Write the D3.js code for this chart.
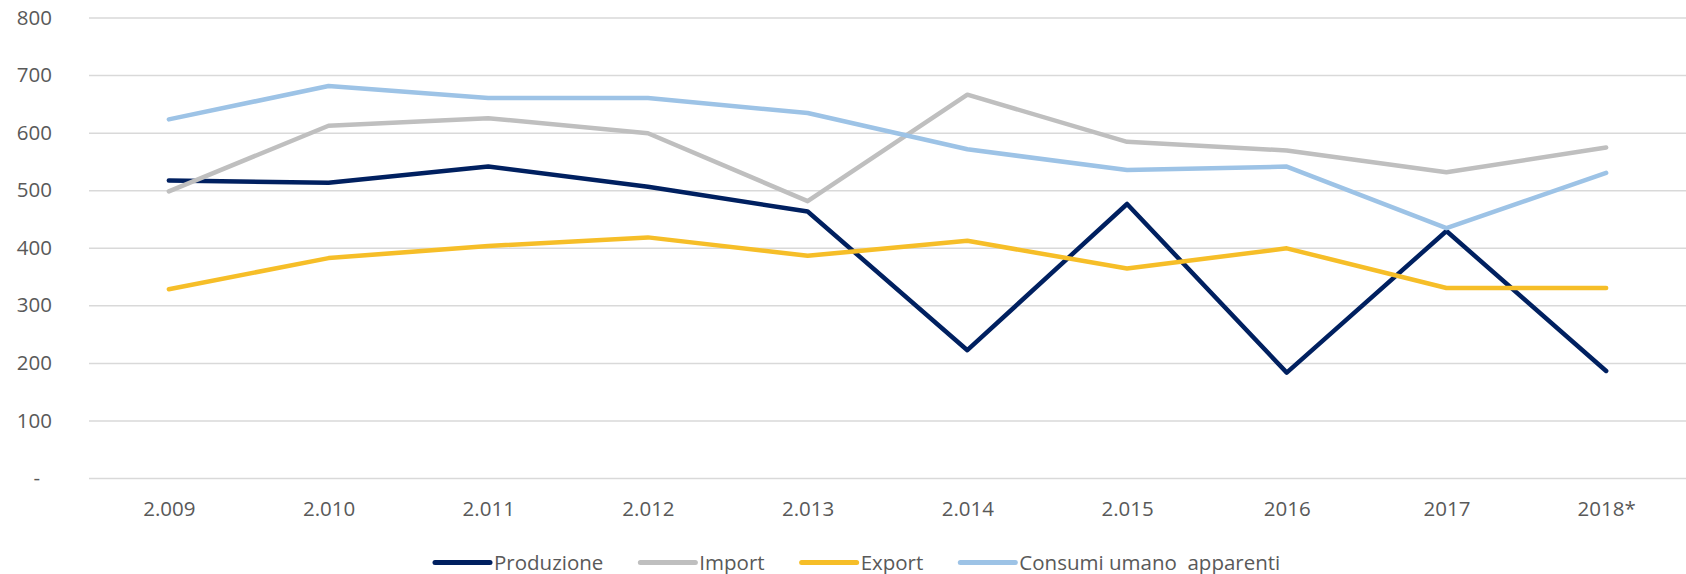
<!DOCTYPE html>
<html>
<head>
<meta charset="utf-8">
<script src="https://cdnjs.cloudflare.com/ajax/libs/d3/7.8.5/d3.min.js"></script>
<style>
  body { margin: 0; background: #fff; }
  svg text { font-family: "Open Sans", "Noto Sans", sans-serif; fill: #595959; }
</style>
</head>
<body>
<div class="chart"></div>
<script>
const years = ['2.009','2.010','2.011','2.012','2.013','2.014','2.015','2016','2017','2018*']
const produzione = [517,513,541,506,463,222,476,183,429,186]
const importVals = [498,612,625,599,481,666,584,569,531,574]
const exportVals = [328,382,403,418,386,412,364,399,330,330]
const consumi = [623,681,660,660,634,571,535,541,434,530]
const yTicks = [0,100,200,300,400,500,600,700,800]

const series = [
	{name:'Produzione', values:produzione, color:'#002060'},
	{name:'Import', values:importVals, color:'#BFBFBF'},
	{name:'Export', values:exportVals, color:'#F6BE28'},
	{name:'Consumi umano  apparenti', values:consumi, color:'#9DC3E6'}
]

const width=1686, height=574
const margin = ({top: 17.5, right: 0, bottom: 96, left: 89})
const fontSize=20.5

const svg=d3.select('.chart').append('svg')
	.attr('width',width)
	.attr('height',height)

let xScale=d3.scalePoint()
	.domain(years)
	.range([margin.left,width-margin.right])
	.padding(0.5)

let yScale=d3.scaleLinear()
	.domain([0,800])
	.range([height-margin.bottom,margin.top])

// gridlines + y labels
let yAxis=d3.axisLeft()
	.scale(yScale)
	.tickValues(yTicks)
	.tickSize(-(width-margin.left-margin.right))
	.tickPadding(37)
	.tickFormat(d=>d===0?'-':d)

svg.append('g')
	.attr('class','y-axis')
	.attr('transform',`translate(${margin.left},0)`)
	.call(yAxis)
	.call(g=>g.select('.domain').remove())
	.call(g=>g.selectAll('line').attr('stroke','#D9D9D9').attr('stroke-width',1.5))
	.call(g=>g.selectAll('text').attr('font-size',fontSize).attr('fill','#595959'))

svg.selectAll('.y-axis .tick text')
	.filter(d=>d===0)
	.attr('dx',-12)

// x labels
let xAxis=d3.axisBottom()
	.scale(xScale)
	.tickSize(0)
	.tickPadding(23)

svg.append('g')
	.attr('class','x-axis')
	.attr('transform',`translate(0,${height-margin.bottom})`)
	.call(xAxis)
	.call(g=>g.select('.domain').remove())
	.call(g=>g.selectAll('text').attr('font-size',fontSize).attr('fill','#595959'))

let line=d3.line()
	.x((d,i)=>xScale(years[i]))
	.y(d=>yScale(d))

svg.selectAll('.lineChart')
	.data(series)
	.enter()
	.append('path')
	.attr('class','lineChart')
	.attr('d',d=>line(d.values))
	.attr('fill','none')
	.attr('stroke',d=>d.color)
	.attr('stroke-width',4.5)
	.attr('stroke-linejoin','round')
	.attr('stroke-linecap','round')

// legend
const legend=svg.append('g').attr('class','legend')
const swatch=55, gap=4, itemGap=37
let xPos=0
series.forEach(s=>{
	const item=legend.append('g').attr('transform',`translate(${xPos},0)`)
	item.append('line')
		.attr('x1',0).attr('x2',swatch)
		.attr('y1',0).attr('y2',0)
		.attr('stroke',s.color)
		.attr('stroke-width',5)
		.attr('stroke-linecap','round')
	const t=item.append('text')
		.attr('x',swatch+gap)
		.attr('y',7)
		.attr('font-size',fontSize)
		.style('white-space','pre')
		.text(s.name)
	xPos+=swatch+gap+t.node().getComputedTextLength()+itemGap
})
legend.attr('transform',`translate(${435},562.5)`)
</script>
</body>
</html>
